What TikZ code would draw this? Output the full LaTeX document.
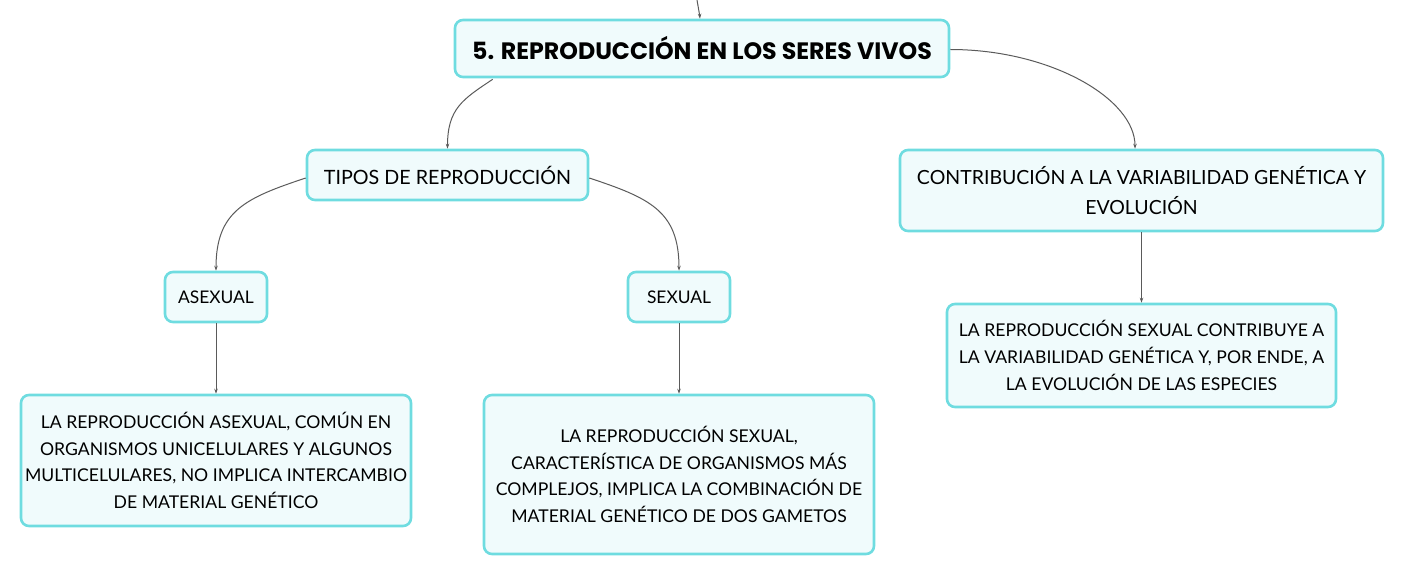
\documentclass[tikz,border=0pt]{standalone}
\usepackage{fontspec}
\setmainfont{Lato}
\newfontfamily\titlefont{Poppins}[UprightFont=* Bold]
\usetikzlibrary{arrows.meta}
\definecolor{boxborder}{HTML}{6FDCE0}
\definecolor{boxfill}{HTML}{F0FBFC}
\definecolor{linkgray}{HTML}{5A5A5A}
\tikzset{
  topic/.style={draw=boxborder, fill=boxfill, line width=2.6pt, rounded corners=8pt,
    align=center, inner sep=0pt, text=black},
  link/.style={draw=linkgray, line width=1pt, -{Stealth[length=5pt,width=3.5pt]}},
}
\begin{document}
\begin{tikzpicture}[x=1pt,y=-1pt]
\useasboundingbox (0,0) rectangle (1405,577);
\node[topic, minimum width=494pt, minimum height=57pt, font=\titlefont\fontsize{23.7}{27}\selectfont] (title) at (702,48.5) {5. REPRODUCCIÓN EN LOS SERES VIVOS};
\node[topic, minimum width=281pt, minimum height=50pt, font=\fontsize{19.7}{22}\selectfont] (tipos) at (447.5,175) {TIPOS DE REPRODUCCIÓN};
\node[topic, minimum width=483pt, minimum height=81pt, font=\fontsize{19.5}{30}\selectfont] (contrib) at (1141.5,190.5) {CONTRIBUCIÓN A LA VARIABILIDAD GENÉTICA Y\\EVOLUCIÓN};
\node[topic, minimum width=102pt, minimum height=50pt, font=\fontsize{17.4}{20}\selectfont] (asex) at (216,297) {ASEXUAL};
\node[topic, minimum width=102pt, minimum height=50pt, font=\fontsize{17.4}{20}\selectfont] (sex) at (679,297) {SEXUAL};
\node[topic, minimum width=390pt, minimum height=131pt, font=\fontsize{17.6}{26.7}\selectfont] (asexd) at (216,460.5) {LA REPRODUCCIÓN ASEXUAL, COMÚN EN\\ORGANISMOS UNICELULARES Y ALGUNOS\\MULTICELULARES, NO IMPLICA INTERCAMBIO\\DE MATERIAL GENÉTICO};
\node[topic, minimum width=390pt, minimum height=159pt, font=\fontsize{17.6}{26.7}\selectfont] (sexd) at (679,474.5) {LA REPRODUCCIÓN SEXUAL,\\CARACTERÍSTICA DE ORGANISMOS MÁS\\COMPLEJOS, IMPLICA LA COMBINACIÓN DE\\MATERIAL GENÉTICO DE DOS GAMETOS};
\node[topic, minimum width=389pt, minimum height=103pt, font=\fontsize{17.6}{26.7}\selectfont] (contribd) at (1141.5,355.5) {LA REPRODUCCIÓN SEXUAL CONTRIBUYE A\\LA VARIABILIDAD GENÉTICA Y, POR ENDE, A\\LA EVOLUCIÓN DE LAS ESPECIES};
\coordinate (root) at (697,0);
\draw[link] (root) .. controls (699,8) .. (title.north -| 700,0);
\draw[link] (title.south west) ++(39,1) .. controls +(-30,20) and +(0,-40) .. (tipos.north);
\draw[link] (title.east) ++(0,1) .. controls +(100,0) and +(0,-50) .. (contrib.north -| 1135,0);
\draw[link] (tipos.west) ++(0,3) .. controls +(-60,20) and +(0,-60) .. (asex.north);
\draw[link] (tipos.east) ++(0,3) .. controls +(60,20) and +(0,-60) .. (sex.north);
\draw[link] (asex) -- (asexd);
\draw[link] (sex) -- (sexd);
\draw[link] (contrib) -- (contribd);
\end{tikzpicture}
\end{document}
